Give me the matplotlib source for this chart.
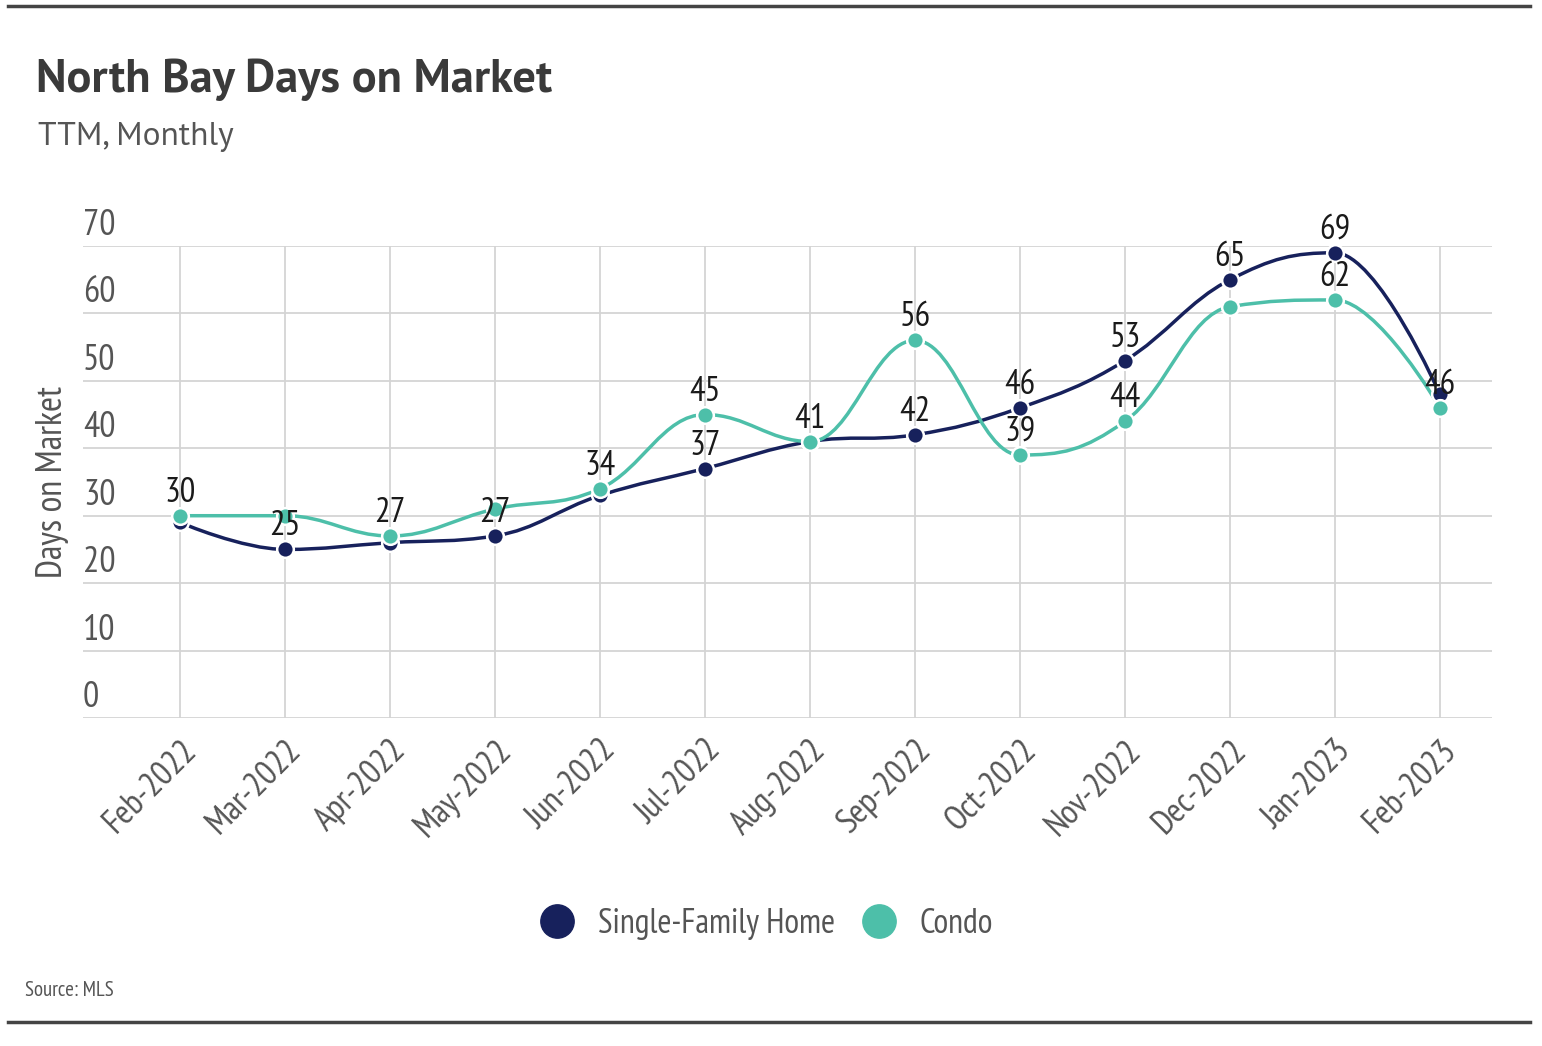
import numpy as np
import matplotlib.pyplot as plt
from matplotlib import font_manager
from matplotlib.path import Path
from matplotlib.patches import PathPatch
from matplotlib.lines import Line2D
import matplotlib.transforms as mtransforms

months = ["Feb-2022", "Mar-2022", "Apr-2022", "May-2022", "Jun-2022", "Jul-2022",
          "Aug-2022", "Sep-2022", "Oct-2022", "Nov-2022", "Dec-2022", "Jan-2023", "Feb-2023"]
sfh = [29, 25, 26, 27, 33, 37, 41, 42, 46, 53, 65, 69, 48]
condo = [30, 30, 27, 31, 34, 45, 41, 56, 39, 44, 61, 62, 46]
# which data labels are visible (others hidden by overlap in the original)
sfh_show = [0, 1, 0, 1, 0, 1, 0, 1, 1, 1, 1, 1, 0]
condo_show = [1, 0, 1, 0, 1, 1, 1, 1, 1, 1, 0, 1, 1]
y_ticks = [0, 10, 20, 30, 40, 50, 60, 70]

NAVY = "#17215c"
TEAL = "#4dbfa9"
GRID = "#d4d4d4"
GREY = "#555555"


def pick_font(prefs):
    names = {f.name for f in font_manager.fontManager.ttflist}
    for p in prefs:
        if p in names:
            return p
    return "DejaVu Sans"


NARROW = pick_font(["PT Sans Narrow", "Roboto Condensed", "Liberation Sans Narrow",
                    "Open Sans Condensed", "Fira Sans Condensed", "Lato"])
TITLE = pick_font(["PT Sans", "Lato", "Open Sans"])
plt.rcParams['font.family'] = [NARROW, 'DejaVu Sans']


def spline_path(xs, ys, smoothing=1.5):
    """Highcharts-style spline as a bezier path."""
    denom = smoothing + 1
    n = len(xs)
    verts = [(xs[0], ys[0])]
    codes = [Path.MOVETO]
    ctrl = []
    for i in range(n):
        if i == 0 or i == n - 1:
            ctrl.append(((xs[i], ys[i]), (xs[i], ys[i])))
            continue
        lx = (smoothing * xs[i] + xs[i - 1]) / denom
        ly = (smoothing * ys[i] + ys[i - 1]) / denom
        rx = (smoothing * xs[i] + xs[i + 1]) / denom
        ry = (smoothing * ys[i] + ys[i + 1]) / denom
        corr = ((ry - ly) * (rx - xs[i])) / (rx - lx) + ys[i] - ry
        ly += corr
        ry += corr
        if ly > ys[i - 1] and ly > ys[i]:
            ly = max(ys[i - 1], ys[i])
            ry = 2 * ys[i] - ly
        elif ly < ys[i - 1] and ly < ys[i]:
            ly = min(ys[i - 1], ys[i])
            ry = 2 * ys[i] - ly
        if ry > ys[i + 1] and ry > ys[i]:
            ry = max(ys[i + 1], ys[i])
            ly = 2 * ys[i] - ry
        elif ry < ys[i + 1] and ry < ys[i]:
            ry = min(ys[i + 1], ys[i])
            ly = 2 * ys[i] - ry
        ctrl.append(((lx, ly), (rx, ry)))
    for i in range(1, n):
        verts += [ctrl[i - 1][1], ctrl[i][0], (xs[i], ys[i])]
        codes += [Path.CURVE4] * 3
    return Path(verts, codes)


fig = plt.figure(figsize=(15.42, 10.46), dpi=100)
ax = fig.add_axes([83 / 1542, 1 - 718 / 1046, (1492 - 83) / 1542, (718 - 246) / 1046])

x = np.arange(len(months))
ax.set_xlim(-0.924, len(months) - 1 + 0.495)
ax.set_ylim(0, 70)

for s in ax.spines.values():
    s.set_visible(False)
ax.set_xticks(x)
ax.set_yticks(y_ticks)
ax.grid(True, color=GRID, linewidth=1.3)
ax.set_axisbelow(True)
ax.tick_params(length=0, labelbottom=False, labelleft=False)

for series, color in [(sfh, NAVY), (condo, TEAL)]:
    p = spline_path(list(x.astype(float)), [float(v) for v in series])
    ax.add_patch(PathPatch(p, facecolor="none", edgecolor=color, lw=2.5, zorder=3))
    ax.plot(x, series, "o", color=color, ms=12, mec="white", mew=1.8, zorder=4)

for i in range(len(months)):
    if sfh_show[i]:
        ax.annotate(str(sfh[i]), (x[i], sfh[i]), xytext=(0, 5), textcoords="offset points",
                    ha="center", va="bottom", fontsize=25, color="#1a1a1a", zorder=5)
    if condo_show[i]:
        ax.annotate(str(condo[i]), (x[i], condo[i]), xytext=(0, 5), textcoords="offset points",
                    ha="center", va="bottom", fontsize=25, color="#1a1a1a", zorder=5)

# y tick labels sit above their gridlines, left aligned
lift = mtransforms.ScaledTranslation(0, 4 / 100, fig.dpi_scale_trans)
for v in y_ticks:
    ax.text(0, v, str(v), transform=ax.get_yaxis_transform() + lift, ha="left", va="bottom",
            fontsize=26, color=GREY)
ax.set_ylabel("Days on Market", fontsize=26, color=GREY)
ax.yaxis.set_label_coords(-0.010, 0.5)

# rotated month labels
off = mtransforms.ScaledTranslation(0, -16 / 100, fig.dpi_scale_trans)
for i, m in enumerate(months):
    ax.text(x[i], 0, m, transform=ax.get_xaxis_transform() + off, rotation=45,
            rotation_mode="anchor", ha="right", va="top", fontsize=25, color=GREY)

fig.text(36 / 1542, 1 - 80 / 1046, "North Bay Days on Market", fontsize=33.5, fontweight="bold",
         color="#3a3a3a", va="center", ha="left", family=[TITLE, "DejaVu Sans"])
fig.text(38 / 1542, 1 - 137 / 1046, "TTM, Monthly", fontsize=24, color=GREY, va="center",
         ha="left", family=[TITLE, "DejaVu Sans"])
fig.text(25 / 1542, 1 - 990 / 1046, "Source: MLS", fontsize=15, color=GREY, va="center", ha="left")

handles = [Line2D([], [], marker="o", ls="none", color=NAVY, ms=24),
           Line2D([], [], marker="o", ls="none", color=TEAL, ms=24)]
fig.legend(handles, ["Single-Family Home", "Condo"], loc="center", ncol=2,
           bbox_to_anchor=(758 / 1542, 1 - 924 / 1046), frameon=False, fontsize=24.5,
           handletextpad=0.2, columnspacing=0.3, labelcolor=GREY)

fig.add_artist(Line2D([8 / 1542, 1530 / 1542], [1 - 6 / 1046] * 2, color="#444444", lw=2.5))
fig.add_artist(Line2D([8 / 1542, 1530 / 1542], [1 - 1022 / 1046] * 2, color="#444444", lw=2.5))

fig.savefig("out.png", dpi=100, facecolor="white")
